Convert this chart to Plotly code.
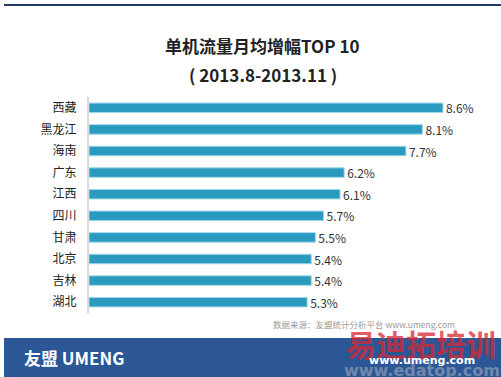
import plotly.graph_objects as go

regions = ["西藏", "黑龙江", "海南", "广东", "江西", "四川", "甘肃", "北京", "吉林", "湖北"]
growth = [8.6, 8.1, 7.7, 6.2, 6.1, 5.7, 5.5, 5.4, 5.4, 5.3]
labels = [f"{v}%" for v in growth]

W, H = 501, 377
ML, MR, MT, MB = 89, 21, 97, 64
PW = W - ML - MR
PH = H - MT - MB

def px(x):
    return (x - ML) / PW

def py(y):
    return (H - MB - y) / PH

FONT = "Noto Sans CJK SC"

fig = go.Figure(go.Bar(
    x=growth, y=regions, orientation="h",
    width=0.44,
    marker=dict(color="#2A9BBE", line=dict(color="#9ED8EA", width=1)),
    text=labels, textposition="outside", cliponaxis=False, constraintext="none",
    textfont=dict(family=FONT, size=12, color="#333333"),
    hoverinfo="skip",
))

shapes = [
    dict(type="rect", xref="paper", yref="paper", x0=px(4), x1=px(501), y0=py(377), y1=py(338),
         fillcolor="#2C5796", line=dict(width=0), layer="below"),
    dict(type="line", xref="paper", yref="paper", x0=px(4), x1=px(501), y0=py(5), y1=py(5),
         line=dict(color="#243A63", width=2)),
]

def ann(text, x, y, size, color, family=FONT, xanchor="center"):
    return dict(text=text, x=px(x), y=py(y), xref="paper", yref="paper",
                xanchor=xanchor, yanchor="middle", showarrow=False,
                font=dict(family=family, size=size, color=color))

annotations = [
    ann("<b>单机流量月均增幅TOP 10</b>", 262, 46, 17, "#222222"),
    ann("<b>( 2013.8-2013.11 )</b>", 263, 74, 17, "#222222"),
    ann("<b>易迪拓培训</b>", 421, 343, 30, "rgba(215,40,50,0.75)"),
    ann("数据来源：友盟统计分析平台 www.umeng.com", 364, 324, 8.5, "#9A9A9A"),
    ann("<b>友盟 UMENG</b>", 22, 357, 17, "#FFFFFF", xanchor="left"),
    ann("<b>www.edatop.com</b>", 422, 370, 16, "rgba(200,200,200,0.45)", family="DejaVu Sans"),
    ann("<b>www.umeng.com</b>", 422, 360, 11, "#FFFFFF", family="DejaVu Sans"),
]

fig.update_layout(
    width=W, height=H,
    margin=dict(l=ML, r=MR, t=MT, b=MB, pad=0),
    paper_bgcolor="white", plot_bgcolor="white",
    showlegend=False,
    xaxis=dict(range=[0, 9.5], visible=False, fixedrange=True),
    yaxis=dict(autorange="reversed", showline=True, linecolor="#D9D9D9", linewidth=2,
               showgrid=False, ticks="", ticklabelstandoff=8, fixedrange=True,
               tickfont=dict(family=FONT, size=12, color="#222222")),
    shapes=shapes, annotations=annotations,
)

fig.write_html("out.html", config={"displayModeBar": False},
               post_script="document.body.style.margin='0';document.body.style.overflow='hidden';")
